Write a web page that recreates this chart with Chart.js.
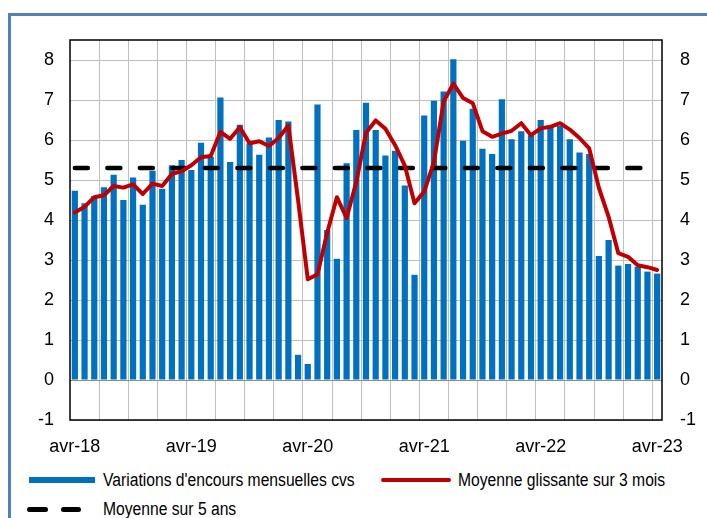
<!DOCTYPE html>
<html lang="fr">
<head>
<meta charset="UTF-8">
<title>Variations d'encours mensuelles cvs</title>
<script src="https://cdn.jsdelivr.net/npm/chart.js"></script>
<style>
  html, body { margin: 0; padding: 0; overflow: hidden; background: #fff; }
  body { width: 707px; height: 518px; position: relative; font-family: "Liberation Sans", Arial, sans-serif; }
  .cadre { position: absolute; left: 8px; top: 13px; width: 720px; height: 540px;
           border-left: 3px solid #4f81bd; border-top: 3px solid #4f81bd; }
  .graph { position: absolute; left: 0; top: 0; width: 707px; height: 460px; }
  .legende div { position: absolute; }
  .txt { font-size: 18px; color: #000; white-space: nowrap; transform: scaleX(0.87); transform-origin: left center; line-height: 20px; }
</style>
</head>
<body>
<div class="cadre"></div>
<div class="graph"><canvas id="encours"></canvas></div>
<div class="legende" id="legende"></div>

<script>
// libellés
const moisCourts = ['janv', 'févr', 'mars', 'avr', 'mai', 'juin', 'juil', 'août', 'sept', 'oct', 'nov', 'déc'];
const etiquettesAxe = ['avr-18', 'avr-19', 'avr-20', 'avr-21', 'avr-22', 'avr-23'];
const nomBarres = "Variations d'encours mensuelles cvs";
const nomGlissante = 'Moyenne glissante sur 3 mois';
const nomMoyenne = 'Moyenne sur 5 ans';

// valeurs (avr-18 -> avr-23)
const variations = [
  4.73, 4.42, 4.60, 4.82, 5.13, 4.50, 5.06, 4.38, 5.23, 4.78,
  5.37, 5.50, 5.25, 5.93, 5.58, 7.06, 5.45, 6.38, 5.92, 5.63,
  6.06, 6.50, 6.46, 0.63, 0.40, 6.89, 3.75, 3.03, 5.42, 6.25,
  6.93, 6.25, 5.61, 5.73, 4.86, 2.63, 6.61, 6.98, 7.21, 8.02,
  5.98, 6.78, 5.78, 5.65, 7.02, 6.02, 6.22, 6.12, 6.50, 6.32,
  6.35, 6.02, 5.69, 5.65, 3.10, 3.50, 2.86, 2.90, 2.83, 2.71,
  2.66
];
const glissante3m = [
  4.19, 4.33, 4.57, 4.62, 4.85, 4.81, 4.89, 4.65, 4.91, 4.85,
  5.15, 5.22, 5.37, 5.57, 5.60, 6.20, 6.03, 6.32, 5.92, 5.97,
  5.85, 6.05, 6.36, 4.50, 2.52, 2.64, 3.68, 4.57, 4.05, 4.95,
  6.18, 6.49, 6.28, 5.87, 5.36, 4.42, 4.71, 5.45, 6.96, 7.41,
  7.05, 6.92, 6.22, 6.08, 6.16, 6.23, 6.42, 6.12, 6.29, 6.33,
  6.42, 6.26, 6.05, 5.79, 4.80, 4.08, 3.17, 3.08, 2.87, 2.82,
  2.75
];
const moyenne5ans = 5.3;

// catégories mensuelles
const categories = [];
for (let i = 0; i < variations.length; i++) {
  const m = (3 + i) % 12;
  const an = 18 + Math.floor((3 + i) / 12);
  categories.push(moisCourts[m] + '-' + an);
}

const BLEU = '#0070c0';
const ROUGE = '#c00000';
const GRILLE = '#bfbfbf';

// cadre noir de la zone de tracé
const cadreZone = {
  id: 'cadreZone',
  afterDraw(chart) {
    const { ctx, chartArea: a } = chart;
    ctx.save();
    ctx.strokeStyle = '#000';
    ctx.lineWidth = 1.5;
    ctx.strokeRect(a.left, a.top, a.right - a.left, a.bottom - a.top);
    ctx.restore();
  }
};

Chart.defaults.font.family = '"Liberation Sans", Arial, sans-serif';
Chart.defaults.font.size = 18;
Chart.defaults.color = '#000';

new Chart(document.getElementById('encours'), {
  type: 'bar',
  data: {
    labels: categories,
    datasets: [
      {
        type: 'line',
        label: nomGlissante,
        data: glissante3m,
        borderColor: ROUGE,
        borderWidth: 4,
        borderJoinStyle: 'round',
        borderCapStyle: 'round',
        pointRadius: 0,
        tension: 0,
        order: 0
      },
      {
        type: 'line',
        label: nomMoyenne,
        data: categories.map(() => moyenne5ans),
        borderColor: '#000',
        borderWidth: 4.5,
        borderDash: [13, 19.5],
        borderCapStyle: 'round',
        pointRadius: 0,
        order: 1
      },
      {
        label: nomBarres,
        data: variations,
        backgroundColor: BLEU,
        barPercentage: 0.64,
        categoryPercentage: 1,
        order: 2
      }
    ]
  },
  options: {
    responsive: true,
    maintainAspectRatio: false,
    animation: false,
    layout: { padding: { top: 40, bottom: 0, left: 0, right: 0 } },
    plugins: { legend: { display: false }, tooltip: { enabled: false } },
    scales: {
      x: {
        offset: true,
        grid: {
          offset: true,
          drawTicks: false,
          color: ctx => (ctx.index > 0 && ctx.index % 3 === 0) ? GRILLE : 'rgba(0,0,0,0)'
        },
        border: { display: false },
        ticks: {
          autoSkip: false,
          maxRotation: 0,
          minRotation: 0,
          padding: 16,
          callback: (v, i) => (i % 12 === 0) ? etiquettesAxe[i / 12] : ''
        },
        afterFit: s => { s.height = 40; }
      },
      y: {
        position: 'left',
        min: -1,
        max: 8.5,
        bounds: 'data',
        grid: {
          drawTicks: false,
          color: ctx => ctx.tick && ctx.tick.value === 0 ? '#8c8c8c' : GRILLE
        },
        border: { display: false },
        ticks: { stepSize: 1, includeBounds: false, padding: 16 },
        afterFit: s => { s.width = 70; }
      },
      y2: {
        position: 'right',
        min: -1,
        max: 8.5,
        bounds: 'data',
        grid: { display: false, drawTicks: false },
        border: { display: false },
        ticks: { stepSize: 1, includeBounds: false, padding: 18 },
        afterFit: s => { s.width = 45; }
      }
    }
  },
  plugins: [cadreZone]
});

// légende (HTML)
const leg = document.getElementById('legende');
leg.innerHTML =
  '<div style="left:29px;top:477px;width:66px;height:6px;background:' + BLEU + '"></div>' +
  '<div class="txt" style="left:103px;top:470px">' + nomBarres + '</div>' +
  '<div style="left:381px;top:478px;width:70px;height:4px;border-radius:2px;background:' + ROUGE + '"></div>' +
  '<div class="txt" style="left:458px;top:470px">' + nomGlissante + '</div>' +
  '<div style="left:27px;top:507px;width:21px;height:5px;border-radius:3px;background:#000"></div>' +
  '<div style="left:61px;top:507px;width:20px;height:5px;border-radius:3px;background:#000"></div>' +
  '<div class="txt" style="left:103px;top:499px">' + nomMoyenne + '</div>';
</script>
</body>
</html>
